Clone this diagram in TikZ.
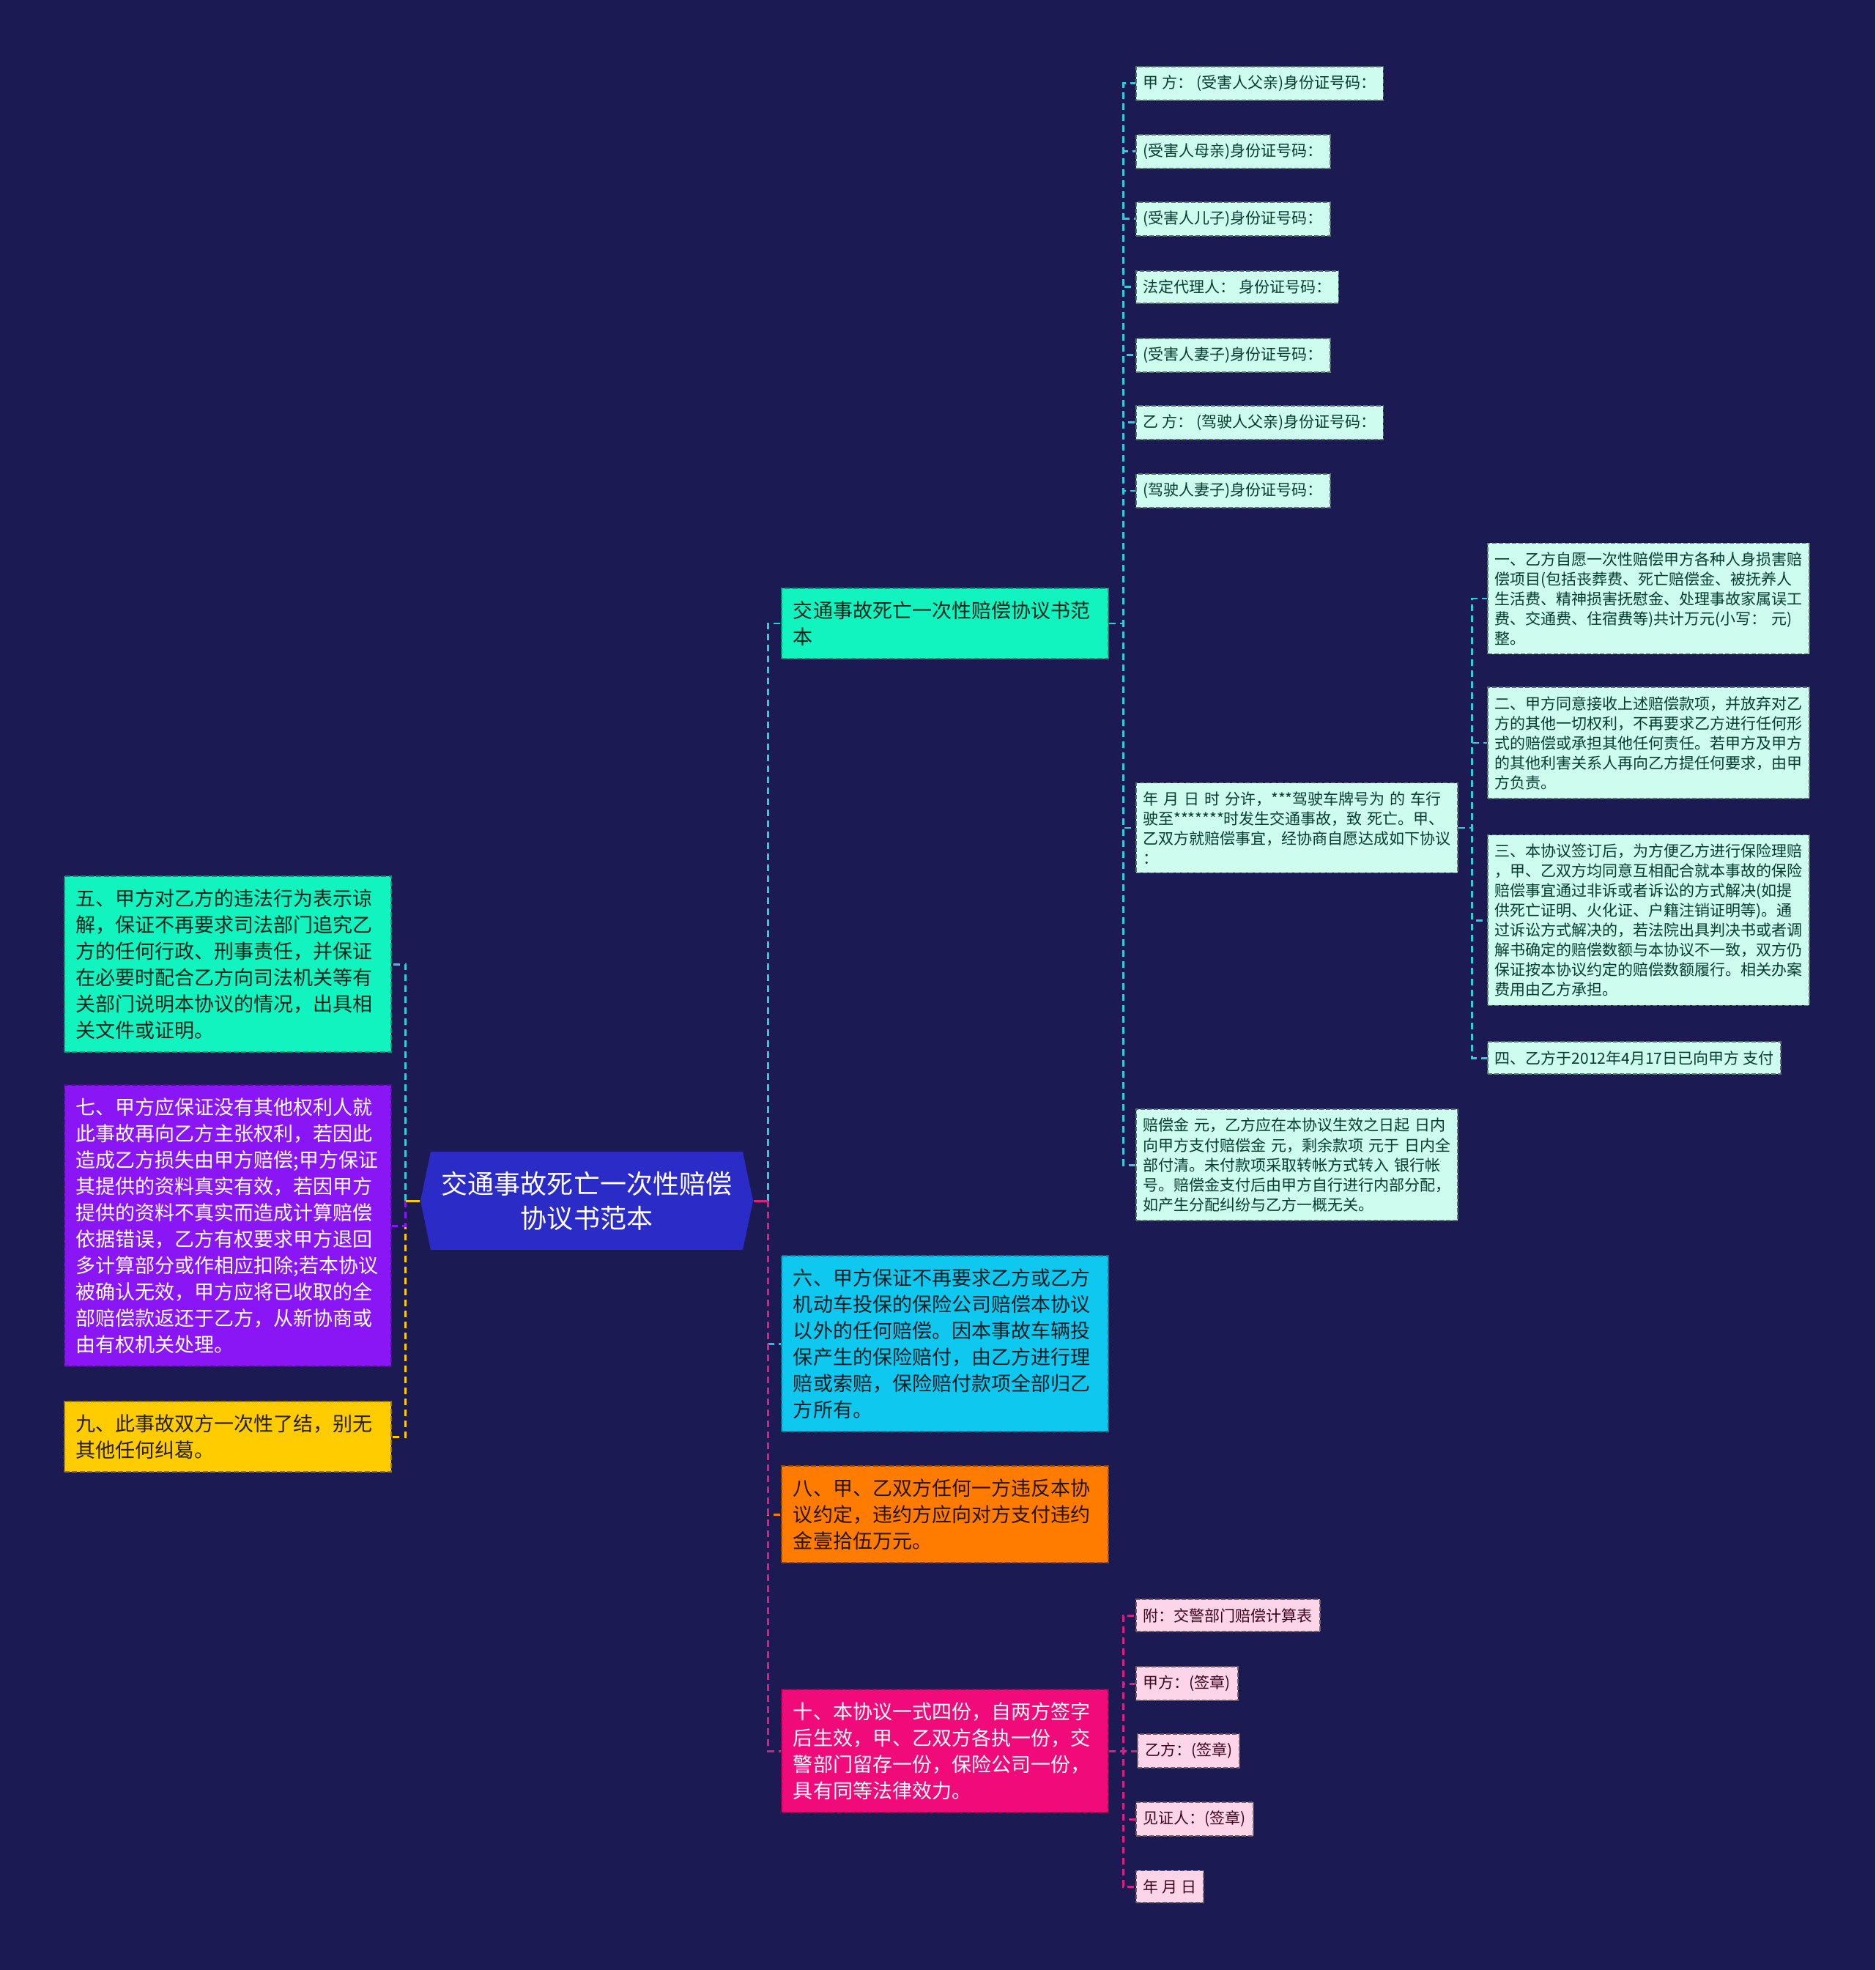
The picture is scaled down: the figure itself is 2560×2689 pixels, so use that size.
\documentclass[tikz,border=0pt]{standalone}
\usepackage{fontspec}
\setmainfont{Noto Sans CJK SC}
\usetikzlibrary{positioning, calc}

\definecolor{bgnavy}{RGB}{27,26,82}
\definecolor{rootblue}{RGB}{43,43,200}
\definecolor{mint}{RGB}{18,244,192}
\definecolor{skyblue}{RGB}{14,200,240}
\definecolor{tangerine}{RGB}{255,124,0}
\definecolor{rosered}{RGB}{240,10,122}
\definecolor{grape}{RGB}{138,22,245}
\definecolor{sun}{RGB}{255,204,0}
\definecolor{mintpale}{RGB}{206,252,238}
\definecolor{pinkpale}{RGB}{252,214,232}
\definecolor{tealink}{RGB}{48,206,214}
\definecolor{pinklink}{RGB}{222,30,130}

\begin{document}
\begin{tikzpicture}[
        x=0.01cm, y=-0.01cm,
        rootnode/.style={
            text=white, align=center, inner sep=0pt,
            minimum width=4.55cm, minimum height=1.34cm,
            font=\fontsize{10.24pt}{13.4pt}\selectfont
        },
        topicbox/.style={
            rectangle, line width=0.55pt, dash pattern=on 0.07cm off 0.035cm,
            text width=4.14cm, inner xsep=0.16cm, inner ysep=0.175cm, align=left,
            font=\fontsize{7.68pt}{10.24pt}\selectfont
        },
        mintbox/.style={topicbox, fill=mint, draw=mint!60!black, text=mint!15!black},
        skybox/.style={topicbox, fill=skyblue, draw=skyblue!60!black, text=skyblue!15!black},
        orangebox/.style={topicbox, fill=tangerine, draw=tangerine!60!black, text=tangerine!15!black},
        rosebox/.style={topicbox, fill=rosered, draw=rosered!60!black, text=white},
        grapebox/.style={topicbox, fill=grape, draw=grape!60!black, text=white},
        sunbox/.style={topicbox, fill=sun, draw=sun!60!black, text=sun!15!black},
        leafbox/.style={
            rectangle, line width=0.45pt, dash pattern=on 0.06cm off 0.03cm,
            inner xsep=0.1cm, inner ysep=0.12cm, align=left,
            font=\fontsize{5.97pt}{7.68pt}\selectfont
        },
        mintleaf/.style={leafbox, fill=mintpale, draw=mintpale!45!black, text=mint!25!black},
        wideleaf/.style={mintleaf, text width=4.2cm, inner xsep=0.095cm},
        pinkleaf/.style={leafbox, fill=pinkpale, draw=pinkpale!45!black, text=rosered!25!black},
        link/.style={line width=0.85pt, dash pattern=on 0.09cm off 0.06cm}
    ]

    \useasboundingbox (0,0) rectangle (2560,2689);
    \fill[bgnavy] (0,0) rectangle (2560,2689);

    % --- Root ---
    \coordinate (rootc) at (801,1639);
    \fill[rootblue] ($(rootc)+(-227,0)$) -- ($(rootc)+(-213,-67)$) -- ($(rootc)+(213,-67)$)
        -- ($(rootc)+(227,0)$) -- ($(rootc)+(213,67)$) -- ($(rootc)+(-213,67)$) -- cycle;
    \node[rootnode] (root) at (rootc) {交通事故死亡一次性赔偿\\协议书范本};

    % --- Right topics ---
    \node[mintbox, anchor=west] (sample) at (1066,851) {交通事故死亡一次性赔偿协议书范\\本};
    \node[skybox, anchor=west] (insure) at (1066,1834) {六、甲方保证不再要求乙方或乙方\\机动车投保的保险公司赔偿本协议\\以外的任何赔偿。因本事故车辆投\\保产生的保险赔付，由乙方进行理\\赔或索赔，保险赔付款项全部归乙\\方所有。};
    \node[orangebox, anchor=west] (breach) at (1066,2067) {八、甲、乙双方任何一方违反本协\\议约定，违约方应向对方支付违约\\金壹拾伍万元。};
    \node[rosebox, anchor=west] (copies) at (1066,2390) {十、本协议一式四份，自两方签字\\后生效，甲、乙双方各执一份，交\\警部门留存一份，保险公司一份，\\具有同等法律效力。};

    % --- Left topics ---
    \node[mintbox, anchor=east] (pardon) at (535,1316) {五、甲方对乙方的违法行为表示谅\\解，保证不再要求司法部门追究乙\\方的任何行政、刑事责任，并保证\\在必要时配合乙方向司法机关等有\\关部门说明本协议的情况，出具相\\关文件或证明。};
    \node[grapebox, anchor=east] (claims) at (535,1673) {七、甲方应保证没有其他权利人就\\此事故再向乙方主张权利，若因此\\造成乙方损失由甲方赔偿;甲方保证\\其提供的资料真实有效，若因甲方\\提供的资料不真实而造成计算赔偿\\依据错误，乙方有权要求甲方退回\\多计算部分或作相应扣除;若本协议\\被确认无效，甲方应将已收取的全\\部赔偿款返还于乙方，从新协商或\\由有权机关处理。};
    \node[sunbox, anchor=east] (settle) at (535,1961) {九、此事故双方一次性了结，别无\\其他任何纠葛。};

    % --- Parties ---
    \node[mintleaf, anchor=west] (father) at (1550,114) {甲~方：~(受害人父亲)身份证号码：};
    \node[mintleaf, anchor=west] (mother) at (1550,207) {(受害人母亲)身份证号码：};
    \node[mintleaf, anchor=west] (son) at (1550,299) {(受害人儿子)身份证号码：};
    \node[mintleaf, anchor=west] (agent) at (1550,392) {法定代理人：~身份证号码：};
    \node[mintleaf, anchor=west] (wife) at (1550,485) {(受害人妻子)身份证号码：};
    \node[mintleaf, anchor=west] (dfather) at (1550,577) {乙~方：~(驾驶人父亲)身份证号码：};
    \node[mintleaf, anchor=west] (dwife) at (1550,670) {(驾驶人妻子)身份证号码：};
    \node[wideleaf, anchor=west] (accident) at (1550,1130) {年~月~日~时~分许，***驾驶车牌号为~的~车行\\驶至*******时发生交通事故，致~死亡。甲、\\乙双方就赔偿事宜，经协商自愿达成如下协议\\：};
    \node[wideleaf, anchor=west] (payment) at (1550,1590) {赔偿金~元，乙方应在本协议生效之日起~日内\\向甲方支付赔偿金~元，剩余款项~元于~日内全\\部付清。未付款项采取转帐方式转入~银行帐\\号。赔偿金支付后由甲方自行进行内部分配，\\如产生分配纠纷与乙方一概无关。};

    % --- Terms ---
    \node[wideleaf, anchor=west] (term1) at (2030,817) {一、乙方自愿一次性赔偿甲方各种人身损害赔\\偿项目(包括丧葬费、死亡赔偿金、被抚养人\\生活费、精神损害抚慰金、处理事故家属误工\\费、交通费、住宿费等)共计万元(小写：~元)\\整。};
    \node[wideleaf, anchor=west] (term2) at (2030,1014) {二、甲方同意接收上述赔偿款项，并放弃对乙\\方的其他一切权利，不再要求乙方进行任何形\\式的赔偿或承担其他任何责任。若甲方及甲方\\的其他利害关系人再向乙方提任何要求，由甲\\方负责。};
    \node[wideleaf, anchor=west] (term3) at (2030,1256) {三、本协议签订后，为方便乙方进行保险理赔\\，甲、乙双方均同意互相配合就本事故的保险\\赔偿事宜通过非诉或者诉讼的方式解决(如提\\供死亡证明、火化证、户籍注销证明等)。通\\过诉讼方式解决的，若法院出具判决书或者调\\解书确定的赔偿数额与本协议不一致，双方仍\\保证按本协议约定的赔偿数额履行。相关办案\\费用由乙方承担。};
    \node[mintleaf, anchor=west] (term4) at (2030,1444) {四、乙方于2012年4月17日已向甲方~支付};

    % --- Signatures ---
    \node[pinkleaf, anchor=west] (attach) at (1550,2205) {附：交警部门赔偿计算表};
    \node[pinkleaf, anchor=west] (signa) at (1550,2298) {甲方：(签章)};
    \node[pinkleaf, right=0.38cm of copies.east, anchor=west] (signb) {乙方：(签章)};
    \node[pinkleaf, anchor=west] (witness) at (1550,2483) {见证人：(签章)};
    \node[pinkleaf, anchor=west] (date) at (1550,2575) {年~月~日};

    % --- Connections ---
    \coordinate (rspine) at ($(root.east)+(19,0)$);
    \coordinate (lspine) at ($(root.west)+(-19,0)$);
    \draw[link, tealink] (rspine) |- (sample.west);
    \draw[link, skyblue] (rspine) |- (insure.west);
    \draw[link, tangerine] (rspine) |- (breach.west);
    \draw[link, pinklink] (rspine) |- (copies.west);
    \draw[line width=0.85pt, pinklink] (root.east) -- (rspine);
    \draw[link, tealink] (lspine) |- (pardon.east);
    \draw[link, sun] (lspine) |- (settle.east);
    \draw[link, grape] (lspine) |- (claims.east);
    \draw[line width=0.85pt, sun] (root.west) -- (lspine);

    \draw[link, tealink] (sample.east) -- ++(19,0) |- (father.west);
    \draw[link, tealink] (sample.east) -- ++(19,0) |- (mother.west);
    \draw[link, tealink] (sample.east) -- ++(19,0) |- (son.west);
    \draw[link, tealink] (sample.east) -- ++(19,0) |- (agent.west);
    \draw[link, tealink] (sample.east) -- ++(19,0) |- (wife.west);
    \draw[link, tealink] (sample.east) -- ++(19,0) |- (dfather.west);
    \draw[link, tealink] (sample.east) -- ++(19,0) |- (dwife.west);
    \draw[link, tealink] (sample.east) -- ++(19,0) |- (accident.west);
    \draw[link, tealink] (sample.east) -- ++(19,0) |- (payment.west);

    \draw[link, tealink] (accident.east) -- ++(19,0) |- (term1.west);
    \draw[link, tealink] (accident.east) -- ++(19,0) |- (term2.west);
    \draw[link, tealink] (accident.east) -- ++(19,0) |- (term3.west);
    \draw[link, tealink] (accident.east) -- ++(19,0) |- (term4.west);

    \draw[link, pinklink] (copies.east) -- ++(19,0) |- (attach.west);
    \draw[link, pinklink] (copies.east) -- ++(19,0) |- (signa.west);
    \draw[link, pinklink] (copies.east) -- (signb.west);
    \draw[link, pinklink] (copies.east) -- ++(19,0) |- (witness.west);
    \draw[link, pinklink] (copies.east) -- ++(19,0) |- (date.west);

\end{tikzpicture}
\end{document}
